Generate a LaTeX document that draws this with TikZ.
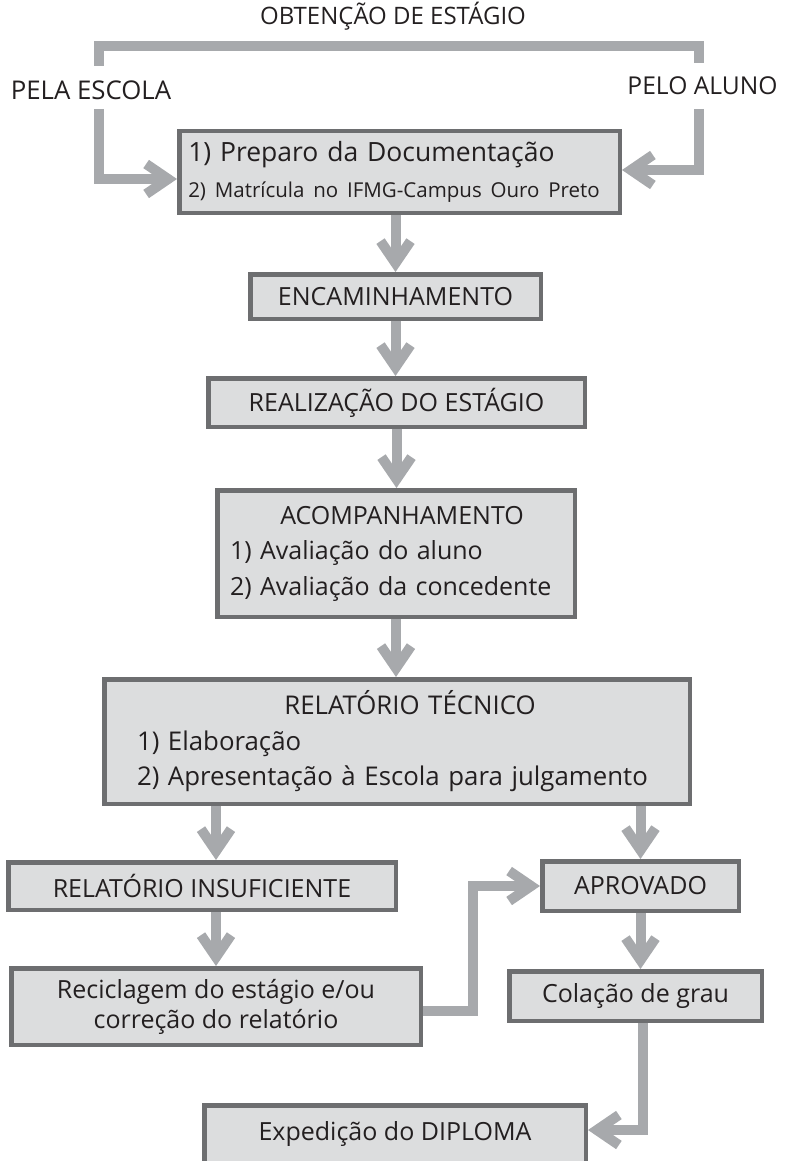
\documentclass[tikz,border=0pt]{standalone}
\usepackage{fontspec}
\setmainfont{Open Sans}
\usetikzlibrary{arrows.meta,backgrounds}

\definecolor{boxfill}{HTML}{DCDDDE}
\definecolor{boxedge}{HTML}{6D6E70}
\definecolor{wiregray}{HTML}{A7A9AC}
\definecolor{inkgray}{HTML}{231F20}

\begin{document}
\begin{tikzpicture}[x=1pt,y=-1pt,
    wire/.style={line width=10pt,draw=wiregray},
    flow/.style={wire,-{Straight Barb[length=22pt,width=30pt]}},
    box/.style={draw=boxedge,fill=boxfill,line width=4.5pt,inner sep=0pt,
      text=inkgray,font=\fontsize{25}{35.5}\selectfont},
    tag/.style={text=inkgray,inner sep=0pt,anchor=base,font=\fontsize{24}{28}\selectfont}]
  \useasboundingbox (0,0) rectangle (785,1161);

  \node[tag] (title) at (393,25) {OBTENÇÃO DE ESTÁGIO};
  \node[tag,font=\fontsize{25.8}{28}\selectfont] (escola) at (91,100) {PELA ESCOLA};
  \node[tag,font=\fontsize{24.6}{28}\selectfont] (aluno) at (702.5,95) {PELO ALUNO};

  \node[box,minimum height=81.5pt,text width=422.5pt,inner xsep=9pt,align=left,
    font=\fontsize{26.5}{35.5}\selectfont] (prep) at (399.5,172)
    {1) Preparo da Documentação\\{\fontsize{20.5}{25}\selectfont 2) Matrícula no IFMG-Campus Ouro Preto}};
  \node[box,minimum width=290.5pt,minimum height=44.5pt] (encam) at (395.5,296.5) {ENCAMINHAMENTO};
  \node[box,minimum width=376.5pt,minimum height=48.5pt] (realiz) at (396.5,402.5) {REALIZAÇÃO DO ESTÁGIO};
  \node[box,minimum height=126.5pt,text width=332pt,inner xsep=12.75pt,align=left] (acomp) at (396,553.5)
    {\makebox[\linewidth]{\hspace{12pt}ACOMPANHAMENTO}\\1) Avaliação do aluno\\2) Avaliação da concedente};
  \node[box,minimum height=124.5pt,text width=520pt,inner xsep=32.75pt,align=left,
    font=\fontsize{25.8}{35.5}\selectfont] (relat) at (397,741.5)
    {\makebox[\linewidth]{\hspace{26pt}RELATÓRIO TÉCNICO}\\1) Elaboração\\2) Apresentação à Escola para julgamento};
  \node[box,minimum width=387.5pt,minimum height=47.5pt] (insuf) at (202,886) {RELATÓRIO INSUFICIENTE};
  \node[box,minimum width=196.5pt,minimum height=49.5pt] (aprov) at (640.5,886) {APROVADO};
  \node[box,minimum width=409.5pt,minimum height=76.5pt,align=center,
    font=\fontsize{25}{30}\selectfont] (recicl) at (216,1006.5)
    {Reciclagem do estágio e/ou\\correção do relatório};
  \node[box,minimum width=252.5pt,minimum height=49.5pt] (colac) at (635.5,996) {Colação de grau};
  \node[box,minimum width=381.5pt,minimum height=57.5pt] (diploma) at (395,1134) {Expedição do DIPLOMA};

  \begin{scope}[on background layer]
    % bracket and the two ways in
    \draw[wire] ([shift={(8pt,34pt)}]escola.base) |- ([yshift=-21pt]title.base)
      -| ([shift={(-3.5pt,32pt)}]aluno.base);
    \draw[flow] ([shift={(8pt,-9pt)}]escola.base) |- ([yshift=-7pt]prep.west);
    \draw[flow] ([shift={(-3.5pt,-14pt)}]aluno.base) |- ([yshift=2pt]prep.east);
    % main column
    \draw[flow] (encam.north |- prep.south) -- (encam.north);
    \draw[flow] (encam.south) -- (encam.south |- realiz.north);
    \draw[flow] (realiz.south) -- (realiz.south |- acomp.north);
    \draw[flow] (acomp.south) -- (acomp.south |- relat.north);
    % split
    \draw[flow] (relat.south -| recicl) -- (insuf.north -| recicl);
    \draw[flow] (insuf.south -| recicl) -- (recicl.north);
    \draw[flow] (relat.south -| aprov) -- (aprov.north);
    \draw[flow] (aprov.south) -- (aprov.south |- colac.north);
    \draw[flow] ([yshift=-4.5pt]recicl.east) -- ++(50,0) |- (aprov.west);
    \draw[flow] ([xshift=7pt]colac.south) |- ([yshift=4pt]diploma.east);
  \end{scope}
\end{tikzpicture}
\end{document}
